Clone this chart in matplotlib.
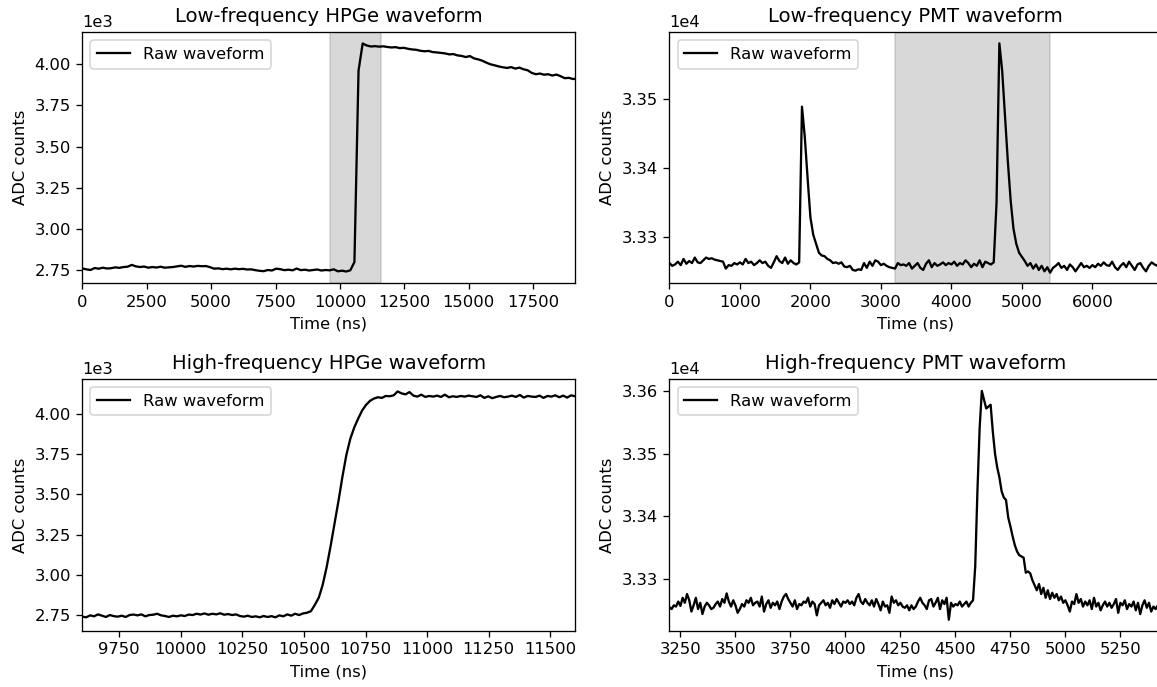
import matplotlib
matplotlib.use('Agg')
import matplotlib.pyplot as plt
import numpy as np

# low-frequency HPGe, sampled every 160 ns from 0 ns
lf_hpge_t0, lf_hpge_dt = 0, 160
lf_hpge = [2762, 2756, 2752, 2764, 2760, 2766, 2761, 2763, 2768, 2765,
           2770, 2772, 2783, 2774, 2770, 2773, 2766, 2770, 2767, 2772,
           2766, 2768, 2770, 2774, 2778, 2771, 2776, 2773, 2777, 2775,
           2776, 2769, 2760, 2762, 2757, 2760, 2756, 2760, 2757, 2759,
           2755, 2756, 2751, 2747, 2745, 2752, 2749, 2760, 2757, 2751,
           2754, 2750, 2761, 2751, 2754, 2749, 2752, 2755, 2749, 2752,
           2750, 2756, 2744, 2748, 2743, 2750, 2800, 3960, 4124, 4112,
           4106, 4108, 4105, 4107, 4103, 4100, 4102, 4096, 4098, 4092,
           4088, 4086, 4080, 4077, 4079, 4072, 4070, 4067, 4064, 4058,
           4060, 4052, 4049, 4042, 4048, 4034, 4028, 4020, 4008, 3998,
           3992, 3985, 3980, 3976, 3981, 3972, 3978, 3968, 3962, 3946,
           3938, 3942, 3935, 3938, 3930, 3936, 3926, 3914, 3916, 3909, 3911]

# low-frequency PMT, sampled every 40 ns from 0 ns
lf_pmt_t0, lf_pmt_dt = 0, 40
lf_pmt = [33262, 33258, 33260, 33264, 33259, 33268, 33261, 33265, 33262, 33270,
          33263, 33262, 33266, 33270, 33268, 33269, 33267, 33266, 33265, 33264,
          33254, 33259, 33258, 33262, 33260, 33263, 33260, 33268, 33262, 33264,
          33259, 33262, 33266, 33262, 33264, 33258, 33255, 33263, 33272, 33265,
          33262, 33270, 33261, 33266, 33262, 33260, 33263, 33489, 33445, 33385,
          33328, 33303, 33290, 33277, 33273, 33272, 33268, 33266, 33262, 33263,
          33261, 33263, 33257, 33256, 33258, 33252, 33251, 33253, 33252, 33262,
          33255, 33264, 33258, 33266, 33264, 33259, 33261, 33258, 33256, 33255,
          33254, 33262, 33259, 33260, 33258, 33262, 33254, 33258, 33262, 33255,
          33252, 33261, 33266, 33256, 33262, 33258, 33260, 33263, 33259, 33262,
          33260, 33264, 33258, 33262, 33260, 33266, 33262, 33256, 33261, 33258,
          33266, 33256, 33264, 33262, 33260, 33263, 33350, 33581, 33541, 33476,
          33410, 33353, 33312, 33290, 33277, 33271, 33265, 33258, 33262, 33254,
          33260, 33252, 33258, 33250, 33256, 33248, 33255, 33258, 33262, 33255,
          33258, 33252, 33260, 33256, 33250, 33256, 33262, 33256, 33258, 33255,
          33259, 33256, 33261, 33258, 33263, 33259, 33258, 33264, 33256, 33252,
          33258, 33262, 33256, 33264, 33258, 33252, 33260, 33262, 33255, 33250,
          33258, 33263, 33260, 33258, 33262, 33261]

# high-frequency HPGe, sampled every 16 ns from 9600 ns
hf_hpge_t0, hf_hpge_dt = 9600, 16
hf_hpge = [2742, 2738, 2750, 2744, 2756, 2748, 2740, 2752, 2745, 2742,
           2748, 2740, 2752, 2755, 2750, 2756, 2744, 2752, 2754, 2760,
           2750, 2746, 2740, 2748, 2744, 2750, 2746, 2755, 2752, 2760,
           2755, 2762, 2754, 2760, 2756, 2763, 2754, 2758, 2752, 2756,
           2746, 2742, 2748, 2740, 2744, 2738, 2746, 2740, 2745, 2738,
           2750, 2744, 2756, 2748, 2760, 2752, 2762, 2766, 2776, 2815,
           2860, 2940, 3050, 3180, 3320, 3460, 3610, 3745, 3845, 3915,
           3970, 4020, 4055, 4080, 4094, 4102, 4098, 4110, 4108, 4114,
           4138, 4126, 4120, 4134, 4112, 4106, 4118, 4104, 4110, 4106,
           4112, 4104, 4118, 4102, 4108, 4104, 4110, 4106, 4112, 4108,
           4104, 4114, 4098, 4108, 4096, 4104, 4110, 4102, 4106, 4112,
           4104, 4116, 4100, 4110, 4106, 4104, 4112, 4098, 4110, 4106,
           4114, 4102, 4112, 4100, 4114, 4108]

# high-frequency PMT, sampled every 10 ns from 3200 ns
hf_pmt_t0, hf_pmt_dt = 3200, 10
hf_pmt = [33255, 33252, 33258, 33256, 33264, 33257, 33270, 33262, 33276, 33266,
          33248, 33258, 33270, 33252, 33262, 33244, 33256, 33262, 33258, 33252,
          33254, 33260, 33264, 33256, 33268, 33262, 33277, 33264, 33256, 33266,
          33258, 33246, 33252, 33260, 33256, 33266, 33262, 33270, 33258, 33262,
          33264, 33256, 33272, 33248, 33260, 33266, 33254, 33262, 33258, 33264,
          33252, 33264, 33272, 33276, 33268, 33262, 33256, 33266, 33252, 33260,
          33258, 33264, 33262, 33270, 33256, 33264, 33260, 33242, 33258, 33262,
          33266, 33258, 33262, 33254, 33266, 33260, 33268, 33262, 33256, 33264,
          33262, 33266, 33260, 33264, 33258, 33270, 33276, 33264, 33260, 33268,
          33262, 33258, 33266, 33256, 33268, 33260, 33250, 33264, 33256, 33258,
          33246, 33272, 33262, 33266, 33258, 33262, 33256, 33254, 33258, 33250,
          33258, 33252, 33256, 33264, 33270, 33262, 33258, 33252, 33266, 33268,
          33256, 33262, 33270, 33252, 33266, 33260, 33270, 33235, 33262, 33256,
          33260, 33258, 33264, 33256, 33260, 33264, 33256, 33262, 33266, 33320,
          33440, 33540, 33600, 33586, 33572, 33575, 33578, 33535, 33500, 33478,
          33462, 33440, 33430, 33426, 33398, 33384, 33368, 33354, 33344, 33338,
          33336, 33334, 33310, 33312, 33309, 33298, 33290, 33282, 33292, 33276,
          33286, 33270, 33282, 33268, 33278, 33270, 33276, 33266, 33272, 33262,
          33266, 33258, 33248, 33264, 33260, 33276, 33262, 33268, 33256, 33264,
          33258, 33266, 33252, 33270, 33256, 33262, 33250, 33258, 33264, 33256,
          33262, 33254, 33260, 33268, 33246, 33262, 33258, 33266, 33252, 33260,
          33256, 33264, 33250, 33262, 33244, 33258, 33266, 33254, 33262, 33248,
          33256, 33252, 33258, 33250, 33254]

hpge_window = (9600, 11600)
pmt_window = (3200, 5400)


def times(t0, dt, values):
    return t0 + dt * np.arange(len(values))


DPI = 118
fig = plt.figure(figsize=(1157 / DPI, 687 / DPI), dpi=DPI)
ax_tl = fig.add_axes([0.0711, 0.588, 0.4259, 0.365])
ax_tr = fig.add_axes([0.5786, 0.588, 0.4259, 0.365])
ax_bl = fig.add_axes([0.0711, 0.0815, 0.4259, 0.3668])
ax_br = fig.add_axes([0.5786, 0.0815, 0.4259, 0.3668])

panels = [
    (ax_tl, times(lf_hpge_t0, lf_hpge_dt, lf_hpge), lf_hpge, 'Low-frequency HPGe waveform',
     (0, 19120), (2673, 4192), 2500, 250, hpge_window),
    (ax_tr, times(lf_pmt_t0, lf_pmt_dt, lf_pmt), lf_pmt, 'Low-frequency PMT waveform',
     (0, 6990), (33233, 33597), 1000, 100, pmt_window),
    (ax_bl, times(hf_hpge_t0, hf_hpge_dt, hf_hpge), hf_hpge, 'High-frequency HPGe waveform',
     (9600, 11600), (2653, 4215), 250, 250, None),
    (ax_br, times(hf_pmt_t0, hf_pmt_dt, hf_pmt), hf_pmt, 'High-frequency PMT waveform',
     (3200, 5440), (33217, 33619), 250, 100, None),
]

for ax, t, y, title, xlim, ylim, xstep, ystep, window in panels:
    if window is not None:
        ax.axvspan(window[0], window[1], color='gray', alpha=0.3)
    ax.plot(t, y, color='black', lw=1.4, label='Raw waveform')
    ax.set_xlim(*xlim)
    ax.set_ylim(*ylim)
    ax.xaxis.set_major_locator(plt.MultipleLocator(xstep))
    ax.yaxis.set_major_locator(plt.MultipleLocator(ystep))
    ax.ticklabel_format(axis='y', style='sci', scilimits=(0, 0), useOffset=False)
    ax.set_title(title)
    ax.set_xlabel('Time (ns)')
    ax.set_ylabel('ADC counts')
    ax.legend(loc='upper left')

fig.savefig('out.png', dpi=DPI)
